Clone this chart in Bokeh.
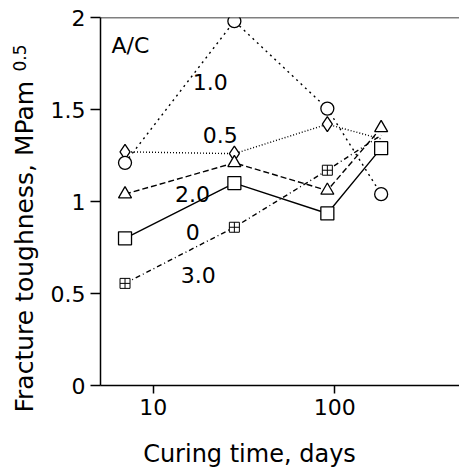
import numpy as np
from bokeh.plotting import figure
from bokeh.layouts import row
from bokeh.models import Range1d, FixedTicker, Span, ColumnDataSource
from bokeh.core.properties import value
from bokeh.embed import file_html
from bokeh.resources import INLINE

# ---- data ----
days = [7, 28, 91, 180]
ac_0 = [0.80, 1.10, 0.935, 1.29]
ac_05 = [1.27, 1.26, 1.42, 1.34]
ac_10 = [1.21, 1.98, 1.505, 1.04]
ac_20 = [1.04, 1.21, 1.06, 1.40]
ac_30 = [0.555, 0.86, 1.17, 1.36]

x_ticks = [10, 100]
x_tick_labels = ["10", "100"]
y_ticks = [0, 0.5, 1, 1.5, 2]
y_tick_labels = ["0", "0.5", "1", "1.5", "2"]

series_names = ["A/C", "1.0", "0.5", "2.0", "0", "3.0"]
name_x = [5.9, 16.5, 18.75, 13.2, 15.1, 14.2]
name_y = [1.848, 1.652, 1.364, 1.043, 0.832, 0.598]

x_title = "Curing time, days"
y_title = "Fracture toughness, MPam"
y_title_sup = "0.5"

FONT = "DejaVu Sans"
H = 473
LEFT_W = 47

# ---- narrow panel holding the rotated y-axis title ----
t = figure(width=LEFT_W, height=H, x_range=Range1d(0, LEFT_W), y_range=Range1d(0, H),
           output_backend="svg", toolbar_location=None,
           x_axis_location=None, y_axis_location=None, min_border=0)
t.outline_line_color = None
t.grid.visible = False
t.text(x=[24], y=[H - 412], text=[y_title], angle=np.pi / 2, text_align="left",
       text_baseline="middle", text_font=value(FONT), text_font_size="25px",
       text_color="black")
t.text(x=[19], y=[H - 71], text=[y_title_sup], angle=np.pi / 2, text_align="left",
       text_baseline="middle", text_font=value(FONT), text_font_size="17px",
       text_color="black")

# ---- main chart ----
p = figure(width=459 - LEFT_W, height=H, x_axis_type="log",
           x_range=Range1d(5.13, 486), y_range=Range1d(0, 2),
           output_backend="svg", toolbar_location=None,
           min_border_left=97 - LEFT_W, min_border_right=0, min_border_top=17, min_border_bottom=88)
p.outline_line_color = None
p.grid.visible = False
p.background_fill_color = "white"

# let each panel keep its own frame instead of aligning them
for f in (t, p):
    if hasattr(f, "frame_align"):
        f.frame_align = False

# top spine
p.add_layout(Span(location=2, dimension="width", line_color="black", line_width=1.5))

# axes
p.xaxis.ticker = FixedTicker(ticks=x_ticks)
p.xaxis.major_label_overrides = dict(zip(x_ticks, x_tick_labels))
p.yaxis.ticker = FixedTicker(ticks=y_ticks)
p.yaxis.major_label_overrides = dict(zip(y_ticks, y_tick_labels))
for ax in (p.xaxis[0], p.yaxis[0]):
    ax.axis_line_color = "black"
    ax.axis_line_width = 1.5
    ax.major_tick_line_color = "black"
    ax.major_tick_line_width = 1.5
    ax.minor_tick_line_color = None
    ax.major_label_text_font = FONT
    ax.major_label_text_font_size = "22px"
    ax.major_label_text_color = "black"
    ax.axis_label_text_font = FONT
    ax.axis_label_text_font_style = "normal"
    ax.axis_label_text_color = "black"
p.xaxis.major_tick_out = 8
p.xaxis.major_tick_in = 0
p.yaxis.major_tick_out = 10
p.yaxis.major_tick_in = 0
# trailing no-break spaces move the centred title left, as in the reference
p.xaxis.axis_label = x_title + "\u00a0" * 8
p.xaxis.axis_label_text_font_size = "24px"
p.xaxis.axis_label_standoff = 22

lw = 1.4
# lines
p.line(days, ac_10, line_color="black", line_width=lw, line_dash="2 4")
p.line(days, ac_05, line_color="black", line_width=lw, line_dash="1 2")
p.line(days, ac_20, line_color="black", line_width=lw, line_dash="6 3")
p.line(days, ac_0, line_color="black", line_width=lw)
p.line(days, ac_30, line_color="black", line_width=lw, line_dash="5 3 1 3")

# markers
p.scatter(days[:3], ac_30[:3], marker="square_cross", size=10, fill_color="white",
          line_color="black", line_width=1.0)
p.scatter(days[:3], ac_05[:3], marker="diamond", size=15, fill_color="white",
          line_color="black", line_width=1.3)
p.scatter(days, ac_10, marker="circle", size=13, fill_color="white",
          line_color="black", line_width=1.3)
p.scatter(days, ac_20, marker="triangle", size=13, fill_color="white",
          line_color="black", line_width=1.3)
p.scatter(days, ac_0, marker="square", size=13, fill_color="white",
          line_color="black", line_width=1.3)

src = ColumnDataSource(dict(x=name_x, y=name_y, t=series_names))
p.text(x="x", y="y", text="t", source=src, text_align="left", text_baseline="middle",
       text_font=value(FONT), text_font_size="22px", text_color="black")

layout = row(t, p, spacing=0)
open("out.html", "w").write(file_html(layout, INLINE))
